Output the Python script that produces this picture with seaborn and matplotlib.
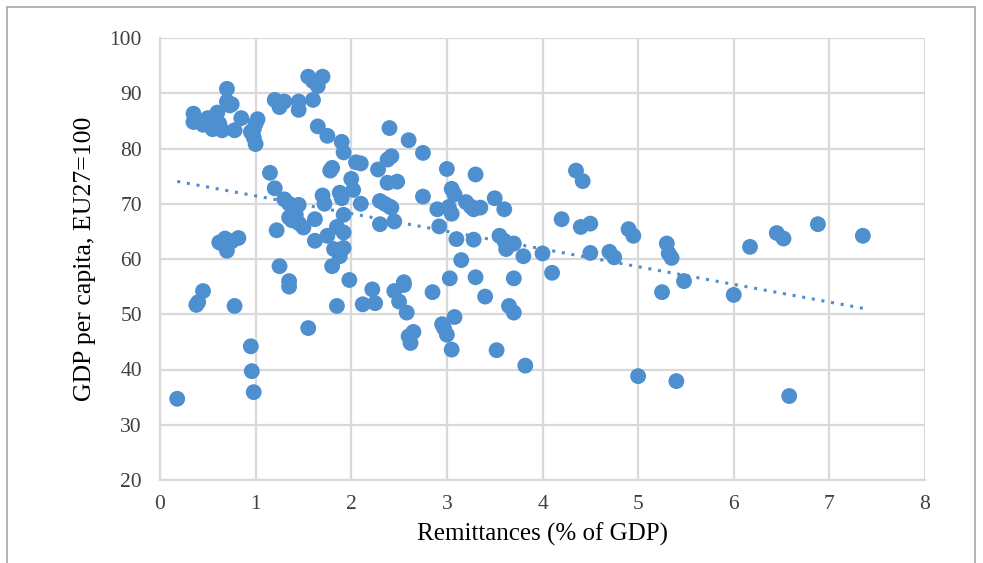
import numpy as np
import pandas as pd
import seaborn as sns
import matplotlib.pyplot as plt
from matplotlib.patches import Rectangle

# remittances (% of GDP) and GDP per capita (EU27=100)
remit = [0.35, 0.35, 0.45, 0.5, 0.55, 0.6, 0.62, 0.65, 0.7, 0.7, 0.73, 0.75, 0.78, 0.85, 0.95,
         0.98, 1.0, 1.0, 1.02, 0.98,
         1.2, 1.25, 1.3, 1.45, 1.45, 1.55, 1.6, 1.7, 1.65, 1.6, 1.65, 1.75, 1.9, 1.92, 1.8, 1.78,
         1.15, 1.2, 1.3, 1.35, 1.4, 1.42, 1.35, 1.45, 1.45, 1.5, 1.38, 1.22, 1.25, 1.35, 1.35, 1.55,
         1.62, 1.62, 1.7, 1.72, 1.75, 1.85, 1.88, 1.9, 1.92, 1.92, 1.82, 1.88, 1.92, 1.8, 1.85, 1.98,
         2.0, 2.05, 2.1, 2.02, 2.1, 2.12, 2.22, 2.25, 2.28, 2.3, 2.35, 2.3, 2.4, 2.38, 2.42, 2.45,
         2.48, 2.38, 2.42, 2.4, 2.45, 2.5, 2.55, 2.55, 2.58, 2.6, 2.62, 2.65, 2.6, 2.75, 2.75, 2.85,
         2.9, 2.92, 2.95, 2.97, 3.0, 3.0, 3.02, 3.05, 3.08, 3.05, 3.1, 3.05, 3.08, 3.03, 3.15, 3.2,
         3.25, 3.28, 3.28, 3.3, 3.35, 3.3, 3.4, 3.52, 3.5, 3.6, 3.55, 3.6, 3.62, 3.65, 3.7, 3.65,
         3.7, 3.7, 3.8, 3.82, 4.0, 4.1, 4.2, 4.35, 4.42, 4.4, 4.5, 4.5, 4.7, 4.75, 4.9, 4.95, 5.0,
         5.25, 5.3, 5.32, 5.35, 5.4, 5.48, 6.0, 6.17, 6.45, 6.52, 6.58, 6.88, 7.35,
         0.18, 0.38, 0.4, 0.45, 0.78, 0.62, 0.68, 0.7, 0.75, 0.82, 0.65, 0.95, 0.96, 0.98]
gdp = [86.3, 84.8, 84.3, 85.5, 83.5, 86.5, 84.5, 83.3, 88.5, 90.8, 87.8, 88.0, 83.3, 85.5, 83.0,
       82.0, 84.5, 80.8, 85.3, 83.5,
       88.8, 87.5, 88.5, 88.5, 87.0, 93.0, 92.2, 93.0, 91.3, 88.8, 84.0, 82.3, 81.2, 79.3, 76.5, 76.0,
       75.6, 72.8, 70.8, 70.0, 69.5, 68.0, 67.5, 66.5, 69.8, 65.7, 67.0, 65.2, 58.7, 56.0, 55.0, 47.5,
       63.3, 67.2, 71.5, 70.0, 64.2, 65.8, 72.0, 71.0, 64.8, 68.0, 61.8, 60.5, 62.0, 58.7, 51.5, 56.2,
       74.5, 77.5, 77.3, 72.5, 70.0, 51.8, 54.5, 52.0, 76.2, 70.5, 70.0, 66.3, 69.5, 73.8, 69.3, 66.8,
       74.0, 78.0, 78.6, 83.7, 54.2, 52.3, 55.3, 55.8, 50.3, 46.0, 44.8, 46.8, 81.5, 79.2, 71.3, 54.0,
       69.0, 65.9, 48.2, 47.5, 46.3, 76.3, 69.4, 72.7, 71.7, 68.2, 63.6, 43.6, 49.5, 56.5, 59.8, 70.3,
       69.5, 69.0, 63.5, 75.3, 69.3, 56.7, 53.2, 43.5, 71.0, 69.0, 64.2, 63.3, 61.8, 62.5, 62.8, 51.5,
       50.3, 56.5, 60.5, 40.7, 61.0, 57.5, 67.2, 76.0, 74.1, 65.8, 66.4, 61.1, 61.3, 60.3, 65.4, 64.2, 38.8,
       54.0, 62.8, 61.0, 60.2, 37.9, 56.0, 53.5, 62.2, 64.7, 63.7, 35.2, 66.3, 64.2,
       34.7, 51.7, 52.2, 54.2, 51.5, 63.0, 63.7, 61.5, 63.2, 63.8, 62.8, 44.2, 39.7, 35.9]

df = pd.DataFrame({'remit': remit, 'gdp': gdp})

sns.set_style('white')
plt.rcParams['font.family'] = ['Liberation Serif', 'DejaVu Serif']

fig = plt.figure(figsize=(9.83, 5.63), dpi=100)
ax = fig.add_axes([160 / 983, 1 - 480 / 563, 765 / 983, 442 / 563])

color = '#4E8FCF'
sns.scatterplot(data=df, x='remit', y='gdp', ax=ax, s=130, color=color,
                edgecolor='none', zorder=3)

# linear trend, as Excel draws it
k, b = np.polyfit(df['remit'], df['gdp'], 1)
xs = np.array([df['remit'].min(), df['remit'].max()])
ax.plot(xs, k * xs + b, linestyle=(0, (1, 2.2)), color=color, lw=2.2, zorder=4)

ax.set_xlim(0, 8)
ax.set_ylim(20, 100)
ax.set_xticks(range(0, 9))
ax.set_yticks(range(20, 101, 10))
ax.grid(True, color='#D9D9D9', lw=1.6, zorder=0)
ax.set_axisbelow(True)
for side in ['top', 'right']:
    ax.spines[side].set_visible(False)
for side in ['left', 'bottom']:
    ax.spines[side].set_color('#D9D9D9')
    ax.spines[side].set_linewidth(1.6)
ax.tick_params(length=0, labelsize=15.5, colors='#404040')
ax.tick_params(axis='x', pad=11)
ax.tick_params(axis='y', pad=13)
ax.set_xlabel('Remittances (% of GDP)', fontsize=18, color='black', labelpad=6)
ax.set_ylabel('GDP per capita, EU27=100', fontsize=18.5, color='black', labelpad=10)

fig.patches.append(Rectangle((7 / 983, -0.05), 968 / 983, 1.05 - 7 / 563, transform=fig.transFigure,
                             fill=False, edgecolor='#A6A6A6', lw=1.2))

fig.savefig('out.png', dpi=100)
